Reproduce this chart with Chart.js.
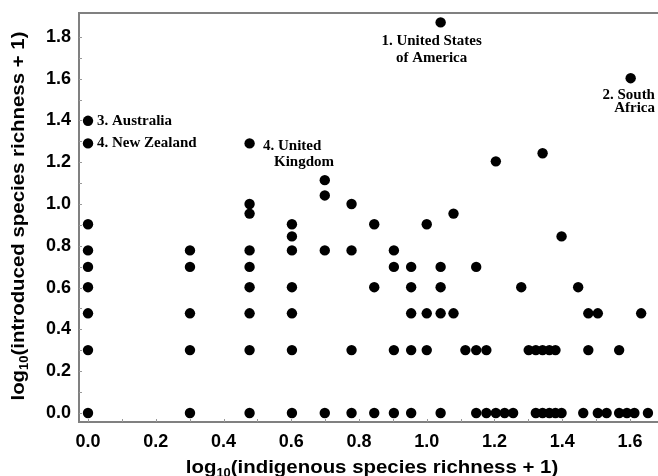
<!DOCTYPE html>
<html>
<head>
<meta charset="utf-8">
<script src="https://cdn.jsdelivr.net/npm/chart.js@4/dist/chart.umd.min.js"></script>
<style>
  html, body { margin: 0; padding: 0; background: #fff; }
  #wrap { width: 658px; height: 476px; }
</style>
</head>
<body>
<div id="wrap"><canvas id="c" width="658" height="476"></canvas></div>
<script>
// log10(indigenous species richness + 1) for each column of regions
const indigenous = [
  0, 0.301, 0.477, 0.602, 0.699, 0.778, 0.845, 0.903, 0.954, 1.0,
  1.041, 1.079, 1.114, 1.146, 1.176, 1.204, 1.230, 1.255, 1.279, 1.301,
  1.322, 1.342, 1.362, 1.380, 1.398, 1.447, 1.462, 1.477, 1.505, 1.531,
  1.568, 1.591, 1.602, 1.613, 1.633, 1.653
];

// log10(introduced species richness + 1) of the regions in each column
const introduced = [
  [1.398, 1.29, 0.903, 0.778, 0.699, 0.602, 0.477, 0.301, 0],
  [0.778, 0.699, 0.477, 0.301, 0],
  [1.29, 1.0, 0.954, 0.778, 0.699, 0.602, 0.477, 0.301, 0],
  [0.903, 0.845, 0.778, 0.602, 0.477, 0.301, 0],
  [1.114, 1.041, 0.778, 0],
  [1.0, 0.778, 0.301, 0],
  [0.903, 0.602, 0],
  [0.778, 0.699, 0.301, 0],
  [0.699, 0.602, 0.477, 0.301, 0],
  [0.903, 0.477, 0.301],
  [1.869, 0.699, 0.602, 0.477, 0],
  [0.954, 0.477],
  [0.301],
  [0.699, 0.301, 0],
  [0.301, 0],
  [1.204, 0],
  [0],
  [0],
  [0.602],
  [0.301],
  [0.301, 0],
  [1.243, 0.301, 0],
  [0.301, 0],
  [0.301, 0],
  [0.845, 0],
  [0.602],
  [0],
  [0.477, 0.301],
  [0.477, 0],
  [0],
  [0.301, 0],
  [0],
  [1.602],
  [0],
  [0.477],
  [0]
];

// Named regions: label lines and the point each one belongs to
const regionNames = [
  ['1. United States', 'of America'],
  ['2. South', 'Africa'],
  ['3. Australia'],
  ['4. New Zealand'],
  ['4. United', 'Kingdom']
];
const regionX = [1.041, 1.602, 0, 0, 0.477];
const regionY = [1.869, 1.602, 1.398, 1.29, 1.29];

// Axis tick values
const xTicks = [0, 0.2, 0.4, 0.6, 0.8, 1.0, 1.2, 1.4, 1.6];
const yTicks = [0, 0.2, 0.4, 0.6, 0.8, 1.0, 1.2, 1.4, 1.6, 1.8];

const points = [];
indigenous.forEach((x, i) => introduced[i].forEach(y => points.push({ x, y })));

// Placement of each region label relative to its point (pixels)
const noteLayout = [
  { align: 'center', dx: [-9, -9], dy: [18.6, 35.3] },
  { align: 'right', dx: [24.3, 24.3], dy: [16.8, 30.3] },
  { align: 'left', dx: [9], dy: [0] },
  { align: 'left', dx: [9], dy: [0] },
  { align: 'left', dx: [13.4, 24.4], dy: [2.6, 18.6] }
];

const AXIS_GREY = '#808080';
const SANS = '"Liberation Sans", Arial, Helvetica, sans-serif';
const SERIF = '"Liberation Serif", "Times New Roman", serif';

// Axis title of the form log10(...) with a subscript base, slightly widened
function drawLogTitle(ctx, rest, cx, cy, rotated) {
  const mainFont = 'bold 19px ' + SANS;
  const subFont = 'bold 12px ' + SANS;
  ctx.save();
  ctx.translate(cx, cy);
  if (rotated) ctx.rotate(-Math.PI / 2);
  ctx.scale(1.075, 1);
  ctx.fillStyle = '#000';
  ctx.textBaseline = 'alphabetic';
  ctx.textAlign = 'left';
  ctx.font = mainFont;
  const wLog = ctx.measureText('log').width;
  const wRest = ctx.measureText(rest).width;
  ctx.font = subFont;
  const wSub = ctx.measureText('10').width;
  let x = -(wLog + wSub + wRest) / 2;
  ctx.font = mainFont;
  ctx.fillText('log', x, 0);
  x += wLog;
  ctx.font = subFont;
  ctx.fillText('10', x, 4);
  x += wSub;
  ctx.font = mainFont;
  ctx.fillText(rest, x, 0);
  ctx.restore();
}

const framePlugin = {
  id: 'frame',
  beforeDatasetsDraw(chart) {
    const { ctx, chartArea: a, scales } = chart;
    ctx.save();
    ctx.strokeStyle = AXIS_GREY;
    ctx.lineWidth = 2;
    ctx.beginPath();
    ctx.moveTo(a.right + 2, a.top);
    ctx.lineTo(a.left, a.top);
    ctx.lineTo(a.left, a.bottom);
    ctx.lineTo(a.right + 2, a.bottom);
    ctx.stroke();
    // small inward tick marks every 0.1
    ctx.strokeStyle = '#999';
    ctx.lineWidth = 1;
    for (let i = 0; i <= 18; i++) {
      const py = Math.round(scales.y.getPixelForValue(i / 10)) + 0.5;
      ctx.beginPath();
      ctx.moveTo(a.left, py);
      ctx.lineTo(a.left + 3, py);
      ctx.stroke();
    }
    for (let i = 0; i <= 16; i++) {
      const px = Math.round(scales.x.getPixelForValue(i / 10)) + 0.5;
      ctx.beginPath();
      ctx.moveTo(px, a.bottom);
      ctx.lineTo(px, a.bottom - 3);
      ctx.stroke();
    }
    ctx.restore();
  },
  afterDraw(chart) {
    const { ctx, scales } = chart;
    // axis titles
    drawLogTitle(ctx, '(indigenous species richness + 1)', 372, 473, false);
    drawLogTitle(ctx, '(introduced species richness + 1)', 24, 216, true);
    // region labels
    ctx.save();
    ctx.fillStyle = '#000';
    ctx.font = 'bold 15px ' + SERIF;
    ctx.textBaseline = 'middle';
    regionNames.forEach((lines, i) => {
      const px = scales.x.getPixelForValue(regionX[i]);
      const py = scales.y.getPixelForValue(regionY[i]);
      const lay = noteLayout[i];
      ctx.textAlign = lay.align;
      lines.forEach((t, j) => ctx.fillText(t, px + lay.dx[j], py + lay.dy[j]));
    });
    ctx.restore();
  }
};

const tickFont = { family: SANS, size: 18, weight: 'bold' };

new Chart(document.getElementById('c'), {
  type: 'scatter',
  data: {
    datasets: [{
      data: points,
      backgroundColor: '#000',
      borderColor: '#000',
      borderWidth: 0,
      pointRadius: 5.2,
      pointHoverRadius: 5.2
    }]
  },
  options: {
    responsive: false,
    animation: false,
    events: [],
    layout: { autoPadding: false, padding: { top: 13, right: 0, bottom: 0, left: 0 } },
    plugins: { legend: { display: false }, tooltip: { enabled: false } },
    scales: {
      x: {
        type: 'linear',
        min: -0.0266,
        max: 1.6827,
        afterFit(s) {
          s.height = 54;
          s.paddingLeft = 0;
          s.paddingRight = 0;
        },
        afterBuildTicks(s) { s.ticks = xTicks.map(v => ({ value: v })); },
        grid: { display: false, drawTicks: false },
        border: { display: false },
        ticks: {
          autoSkip: false, maxRotation: 0, padding: 9,
          color: '#000', font: tickFont,
          callback: v => Number(v).toFixed(1)
        }
      },
      y: {
        type: 'linear',
        min: -0.0431,
        max: 1.9139,
        afterFit(s) {
          s.width = 79;
          s.paddingTop = 0;
          s.paddingBottom = 0;
        },
        afterBuildTicks(s) { s.ticks = yTicks.map(v => ({ value: v })); },
        grid: { display: false, drawTicks: false },
        border: { display: false },
        ticks: {
          autoSkip: false, padding: 8,
          color: '#000', font: tickFont,
          callback: v => Number(v).toFixed(1)
        }
      }
    }
  },
  plugins: [framePlugin]
});
</script>
</body>
</html>
